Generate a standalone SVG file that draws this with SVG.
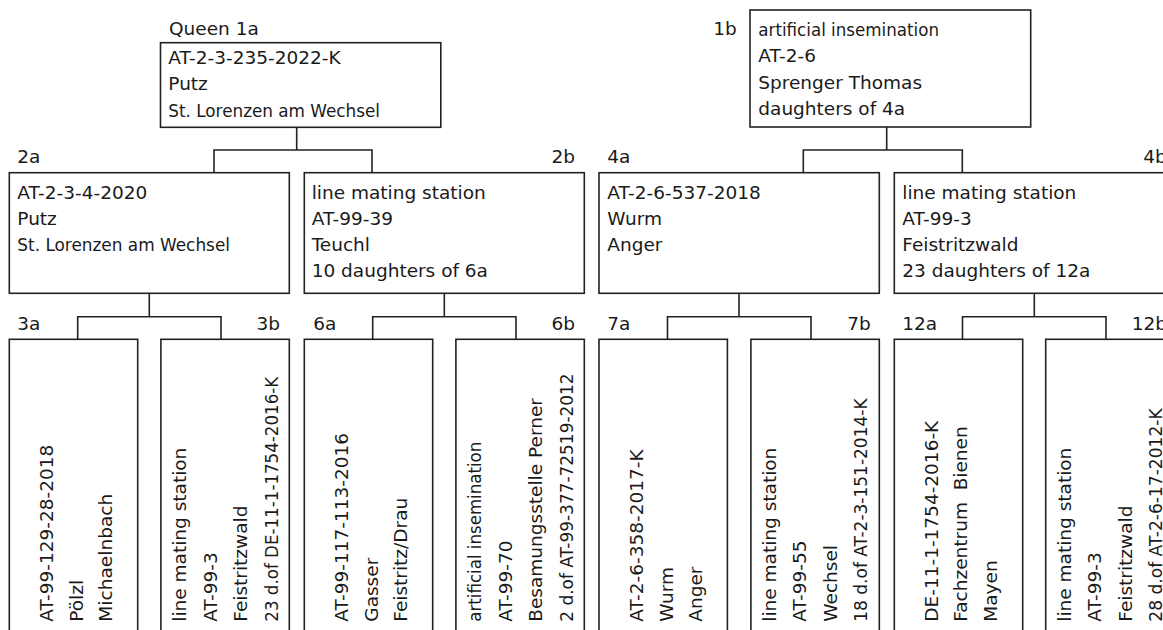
<svg xmlns="http://www.w3.org/2000/svg" width="1163" height="630" viewBox="0 0 1163 630">
<style>
.t{font-family:"DejaVu Sans","Liberation Sans",sans-serif;font-size:18.5px;fill:#1a1a1a}
.e{text-anchor:end}
.box{fill:#fff;stroke:#222;stroke-width:1.6}
.conn{fill:none;stroke:#222;stroke-width:1.6}
</style>
<rect width="1163" height="630" fill="#fff"/>
<g id="connectors" class="conn">
<path d="M296.7,127.3V150M214,172.7V150H372V172.7"/>
<path d="M886.7,127V150M803.3,172.7V150H962.3V172.7"/>
<path d="M149.3,293.3V316.7M77.7,339.3V316.7H221V339.3"/>
<path d="M444.3,293.3V316.7M372.7,339.3V316.7H516V339.3"/>
<path d="M739,293.3V316.7M667.5,339.3V316.7H811V339.3"/>
<path d="M1034.3,293.3V316.7M962.5,339.3V316.7H1106V339.3"/>
</g>
<g id="node-1a">
<text class="t" x="169" y="35">Queen 1a</text>
<rect class="box" x="160.5" y="42.7" width="280.3" height="84.6"/>
<text class="t" x="168.3" y="64">AT-2-3-235-2022-K</text>
<text class="t" x="168.3" y="90.3">Putz</text>
<text class="t" x="168.3" y="116.6" textLength="211.7" lengthAdjust="spacingAndGlyphs">St. Lorenzen am Wechsel</text>
</g>
<g id="node-1b">
<text class="t" x="713.3" y="35">1b</text>
<rect class="box" x="750" y="10" width="280.7" height="117"/>
<text class="t" x="758.3" y="36" textLength="180.7" lengthAdjust="spacingAndGlyphs">artificial insemination</text>
<text class="t" x="758.3" y="62.3">AT-2-6</text>
<text class="t" x="758.3" y="88.6">Sprenger Thomas</text>
<text class="t" x="758.3" y="114.9">daughters of 4a</text>
</g>
<g id="node-2a">
<text class="t" x="17.3" y="163.3">2a</text>
<rect class="box" x="9.3" y="172.7" width="280" height="120.6"/>
<text class="t" x="17.3" y="198.5">AT-2-3-4-2020</text>
<text class="t" x="17.3" y="224.8">Putz</text>
<text class="t" x="17.3" y="251.1" textLength="212.7" lengthAdjust="spacingAndGlyphs">St. Lorenzen am Wechsel</text>
</g>
<g id="node-2b">
<text class="t e" x="575" y="163.3">2b</text>
<rect class="box" x="304.3" y="172.7" width="280" height="120.6"/>
<text class="t" x="311.7" y="198.5">line mating station</text>
<text class="t" x="311.7" y="224.8">AT-99-39</text>
<text class="t" x="311.7" y="251.1">Teuchl</text>
<text class="t" x="311.7" y="277.4">10 daughters of 6a</text>
</g>
<g id="node-4a">
<text class="t" x="607.3" y="163.3">4a</text>
<rect class="box" x="599" y="172.7" width="280.3" height="120.6"/>
<text class="t" x="607.3" y="198.5">AT-2-6-537-2018</text>
<text class="t" x="607.3" y="224.8">Wurm</text>
<text class="t" x="607.3" y="251.1">Anger</text>
</g>
<g id="node-4b">
<text class="t" x="1143.3" y="163.3">4b</text>
<rect class="box" x="894.3" y="172.7" width="280" height="120.6"/>
<text class="t" x="902.3" y="198.5">line mating station</text>
<text class="t" x="902.3" y="224.8">AT-99-3</text>
<text class="t" x="902.3" y="251.1">Feistritzwald</text>
<text class="t" x="902.3" y="277.4">23 daughters of 12a</text>
</g>
<g id="node-3a">
<text class="t" x="17.3" y="330">3a</text>
<rect class="box" x="9.3" y="339.3" width="128.4" height="300"/>
<text class="t" transform="translate(53.3,621.7) rotate(-90)">AT-99-129-28-2018</text>
<text class="t" transform="translate(82.8,621.7) rotate(-90)">Pölzl</text>
<text class="t" transform="translate(112.3,621.7) rotate(-90)" textLength="128" lengthAdjust="spacingAndGlyphs">Michaelnbach</text>
</g>
<g id="node-3b">
<text class="t e" x="280" y="330">3b</text>
<rect class="box" x="160.9" y="339.3" width="128.4" height="300"/>
<text class="t" transform="translate(186,621.7) rotate(-90)">line mating station</text>
<text class="t" transform="translate(216.5,621.7) rotate(-90)">AT-99-3</text>
<text class="t" transform="translate(247,621.7) rotate(-90)">Feistritzwald</text>
<text class="t" transform="translate(277.5,621.7) rotate(-90)" textLength="245" lengthAdjust="spacingAndGlyphs">23 d.of DE-11-1-1754-2016-K</text>
</g>
<g id="node-6a">
<text class="t" x="313.3" y="330">6a</text>
<rect class="box" x="304.3" y="339.3" width="128.4" height="300"/>
<text class="t" transform="translate(348.3,621.7) rotate(-90)">AT-99-117-113-2016</text>
<text class="t" transform="translate(377.8,621.7) rotate(-90)">Gasser</text>
<text class="t" transform="translate(407.3,621.7) rotate(-90)">Feistritz/Drau</text>
</g>
<g id="node-6b">
<text class="t e" x="575" y="330">6b</text>
<rect class="box" x="455.9" y="339.3" width="128.4" height="300"/>
<text class="t" transform="translate(481,621.7) rotate(-90)" textLength="180" lengthAdjust="spacingAndGlyphs">artificial insemination</text>
<text class="t" transform="translate(511.5,621.7) rotate(-90)">AT-99-70</text>
<text class="t" transform="translate(542,621.7) rotate(-90)">Besamungsstelle Perner</text>
<text class="t" transform="translate(572.5,621.7) rotate(-90)" textLength="248.3" lengthAdjust="spacingAndGlyphs">2 d.of AT-99-377-72519-2012</text>
</g>
<g id="node-7a">
<text class="t" x="607.3" y="330">7a</text>
<rect class="box" x="599" y="339.3" width="128.4" height="300"/>
<text class="t" transform="translate(643,621.7) rotate(-90)">AT-2-6-358-2017-K</text>
<text class="t" transform="translate(672.5,621.7) rotate(-90)">Wurm</text>
<text class="t" transform="translate(702,621.7) rotate(-90)">Anger</text>
</g>
<g id="node-7b">
<text class="t e" x="870.7" y="330">7b</text>
<rect class="box" x="750.9" y="339.3" width="128.4" height="300"/>
<text class="t" transform="translate(775.7,621.7) rotate(-90)">line mating station</text>
<text class="t" transform="translate(806.2,621.7) rotate(-90)">AT-99-55</text>
<text class="t" transform="translate(836.7,621.7) rotate(-90)">Wechsel</text>
<text class="t" transform="translate(867.2,621.7) rotate(-90)" textLength="223.3" lengthAdjust="spacingAndGlyphs">18 d.of AT-2-3-151-2014-K</text>
</g>
<g id="node-12a">
<text class="t" x="902.3" y="330">12a</text>
<rect class="box" x="894.3" y="339.3" width="128.4" height="300"/>
<text class="t" transform="translate(938.3,621.7) rotate(-90)">DE-11-1-1754-2016-K</text>
<text class="t" transform="translate(967.3,621.7) rotate(-90)">Fachzentrum&#160; Bienen</text>
<text class="t" transform="translate(996.8,621.7) rotate(-90)">Mayen</text>
</g>
<g id="node-12b">
<text class="t" x="1131.7" y="330">12b</text>
<rect class="box" x="1045.7" y="339.3" width="128.4" height="300"/>
<text class="t" transform="translate(1070.7,621.7) rotate(-90)">line mating station</text>
<text class="t" transform="translate(1101.2,621.7) rotate(-90)">AT-99-3</text>
<text class="t" transform="translate(1131.7,621.7) rotate(-90)">Feistritzwald</text>
<text class="t" transform="translate(1162.2,621.7) rotate(-90)" textLength="213.3" lengthAdjust="spacingAndGlyphs">28 d.of AT-2-6-17-2012-K</text>
</g>
</svg>
